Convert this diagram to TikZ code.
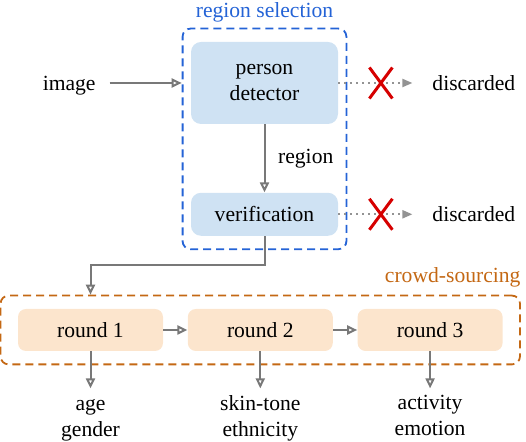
\documentclass[tikz,border=0pt]{standalone}
\usepackage{fontspec}
\setmainfont{LiberationSerif}[Extension=.ttf, UprightFont=*-Regular, BoldFont=*-Bold]
\usetikzlibrary{arrows.meta,positioning,fit,calc,shapes.misc}

\definecolor{selblue}{RGB}{36,99,214}
\definecolor{stageblue}{RGB}{207,226,243}
\definecolor{crowdorange}{RGB}{196,104,20}
\definecolor{roundpeach}{RGB}{252,229,205}
\definecolor{arrowgray}{RGB}{120,120,120}
\definecolor{xred}{RGB}{214,0,0}

\begin{document}
\begin{tikzpicture}[
  x=1pt, y=1pt, node distance=34pt and 12pt,
  every node/.style={font=\rmfamily\fontsize{10.8}{13}\selectfont},
  stage/.style={rounded corners=5pt, fill=stageblue, minimum width=73.5pt, align=center},
  rnd/.style={rounded corners=4pt, fill=roundpeach, minimum width=72.5pt, minimum height=21pt},
  side/.style={text height=7.4pt, text depth=0pt},
  result/.style={align=center, below=18.5pt of #1},
  group/.style={rounded corners=4pt, line width=0.9pt, dash pattern=on 4pt off 2.5pt},
  arr/.style={-{Triangle[open,length=5pt,width=4.5pt]}, draw=arrowgray, line width=1pt},
  drop/.style={-{Triangle[length=5pt,width=4pt]}, draw=arrowgray!80, line width=1pt,
               dash pattern=on 0.8pt off 2.2pt},
  nope/.style={cross out, draw=xred, line width=1.5pt, minimum width=10pt,
               minimum height=14pt, inner sep=0pt}
]
  \useasboundingbox (0,0) rectangle (263,-221);

  % region selection
  \node[stage, minimum height=41pt] (det) at (132.25,-41.5) {person\\detector};
  \node[stage, minimum height=21.5pt, below=of det] (verif) {verification};
  \node[side, left=44pt of det] (img) {image};
  \node[side, right=43.5pt of det]   (drop1) {discarded};
  \node[side, right=43.5pt of verif] (drop2) {discarded};

  \node[group, draw=selblue, fit=(det)(verif), inner xsep=4pt, inner ysep=6.5pt,
        label={[text=selblue, label distance=-1pt]above:region selection}] (sel) {};

  % crowd-sourcing
  \node[rnd] (r1) at (45.25,-165) {round 1};
  \node[rnd, right=of r1] (r2) {round 2};
  \node[rnd, right=of r2] (r3) {round 3};
  \node[result=r1] (out1) {\vphantom{d}age\\gender};
  \node[result=r2] (out2) {skin-tone\\ethnicity};
  \node[result=r3] (out3) {activity\\emotion};

  \node[group, draw=crowdorange, fit=(r1)(r3), inner xsep=8.5pt, inner ysep=6.5pt,
        label={[text=crowdorange, anchor=south east, inner xsep=0pt]north east:crowd-sourcing}] (crowd) {};

  \draw[arr, shorten <=3.5pt] (img) -- (img -| sel.west);
  \draw[arr] (det) -- node[right, xshift=3pt] {region} (verif);
  \draw[drop, shorten >=6.5pt] (det.east) -- (drop1.west);
  \draw[drop, shorten >=6.5pt] (verif.east) -- (drop2.west);
  \node[nope, right=15.5pt of det] (x1) {};
  \node[nope, right=15.5pt of verif] (x2) {};

  \coordinate (turn) at ($(verif.south)!.5!(verif.south |- crowd.north)$);
  \draw[arr] (verif.south) -- (turn) -| (r1 |- crowd.north);
  \draw[arr] (r1) -- (r2);
  \draw[arr] (r2) -- (r3);
  \draw[arr] (r1) -- (out1);
  \draw[arr] (r2) -- (out2);
  \draw[arr] (r3) -- (out3);
\end{tikzpicture}
\end{document}
